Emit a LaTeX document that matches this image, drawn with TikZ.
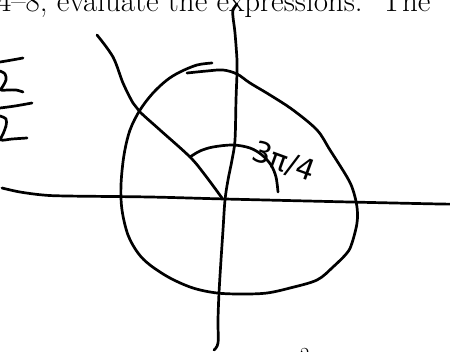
\documentclass[tikz,border=0pt]{standalone}
\usepackage{fontspec}
\newfontfamily\handfont{DejaVu Sans}
\begin{document}
\begin{tikzpicture}[x=1pt,y=-1pt,
  ink/.style={line width=2.7pt, line cap=round, line join=round},
  sm/.style={smooth, tension=0.55}]
\useasboundingbox (0,0) rectangle (450,351);
\clip (0,0) rectangle (450,351);
% typed text cut at the top
\node[anchor=base west, inner sep=0, font=\fontsize{31}{31}\selectfont] (hdr) at (-3,11) {4--8, evaluate the expressions.\ \ The};
% typed digit cut at the bottom
\node[anchor=base west, inner sep=0, font=\fontsize{20}{20}\selectfont] (btm) at (300,361) {2};
% left fraction remnants
\draw[ink] plot[sm] coordinates {(0,62) (12,60) (23,58)};
\draw[ink] plot[sm] coordinates {(0,71) (5,74) (6,80) (3,86) (1,90) (8,90) (16,90) (23,92)};
\draw[ink] plot[sm] coordinates {(0,108) (15,106) (32,103)};
\draw[ink] plot[sm] coordinates {(0,116) (6,119) (6,126) (3,134) (1,140) (12,139) (27,138)};
% vertical axis
\draw[ink] plot[sm] coordinates {(237,4) (233,10) (233,17) (235,33) (237,60) (237,73) (236,100) (235,140) (232,160) (228,180) (225,200) (223,230) (221,260) (219,293) (218,320) (218,343) (214,350)};
% horizontal axis
\draw[ink] plot[sm] coordinates {(2,188) (20,192) (43,195) (67,196) (150,197) (225,199) (350,202) (440,204) (452,204)};
% closed loop
\draw[ink] plot[sm] coordinates {(212,63) (197,65) (180,72) (167,80) (153,93) (140,110) (130,130) (124,155) (121,185) (122,210) (128,235) (138,253) (150,265) (170,278) (193,288) (217,293) (243,294) (267,293) (290,288) (317,280) (333,267) (347,253) (352,243) (357,223) (357,207) (353,190) (347,177) (330,150) (317,130) (293,110) (270,95) (250,83) (237,74) (223,70) (207,71) (187,73)};
% terminal side
\draw[ink] plot[sm] coordinates {(97,35) (113,57) (123,83) (133,103) (140,112) (160,130) (190,157) (205,175) (222,198)};
% angle arc
\draw[ink] plot[sm] coordinates {(190,157) (200,151) (213,147) (233,145) (250,148) (262,155) (271,165) (276,177) (278,192)};
% angle label
\node[rotate=-20, inner sep=0, font=\handfont\fontsize{29}{29}\selectfont] (lbl) at (284,162) {3π/4};
\end{tikzpicture}
\end{document}
